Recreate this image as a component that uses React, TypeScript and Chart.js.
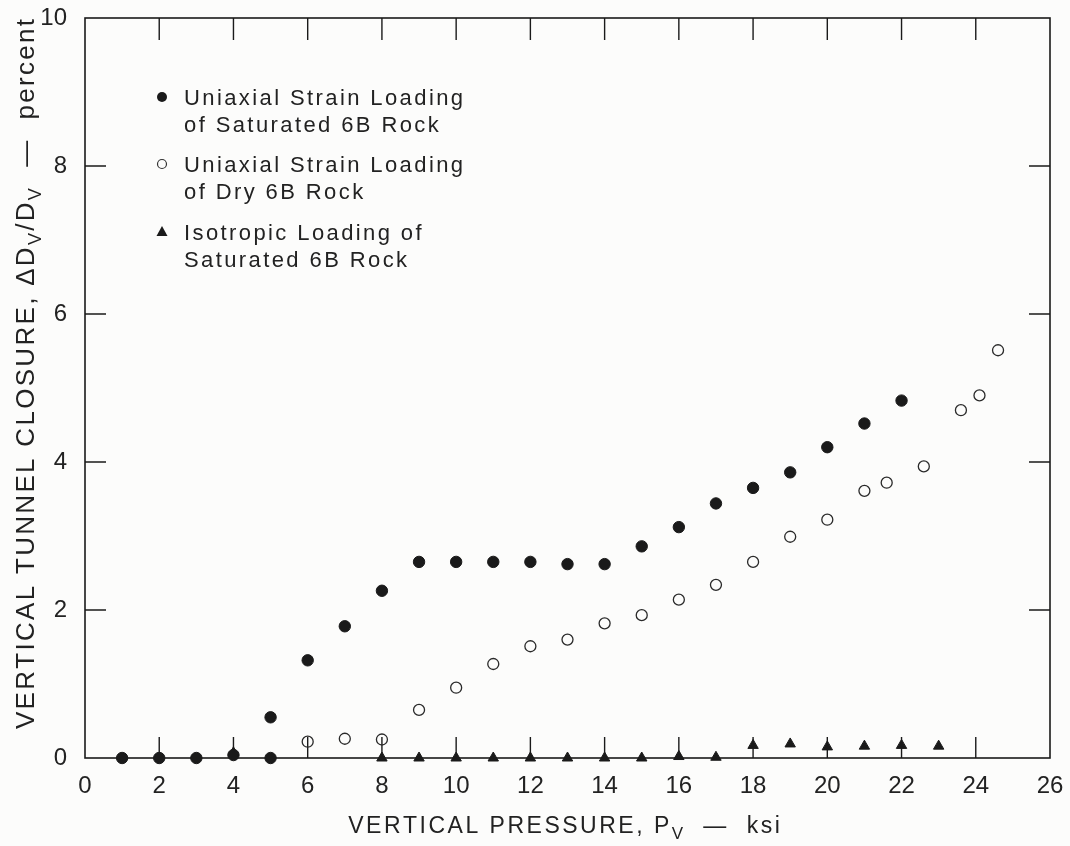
import React, { useEffect, useRef } from "react";
import { Chart, registerables } from "chart.js";

Chart.register(...registerables);

// ---- data ----
const satX = [1, 2, 3, 4, 5, 5, 6, 7, 8, 9, 10, 11, 12, 13, 14, 15, 16, 17, 18, 19, 20, 21, 22];
const satY = [0, 0, 0, 0.04, 0, 0.55, 1.32, 1.78, 2.26, 2.65, 2.65, 2.65, 2.65, 2.62, 2.62, 2.86, 3.12, 3.44, 3.65, 3.86, 4.2, 4.52, 4.83];

const dryX = [6, 7, 8, 9, 10, 11, 12, 13, 14, 15, 16, 17, 18, 19, 20, 21, 21.6, 22.6, 23.6, 24.1, 24.6];
const dryY = [0.22, 0.26, 0.25, 0.65, 0.95, 1.27, 1.51, 1.6, 1.82, 1.93, 2.14, 2.34, 2.65, 2.99, 3.22, 3.61, 3.72, 3.94, 4.7, 4.9, 5.51];

const isoX = [4, 8, 9, 10, 11, 12, 13, 14, 15, 16, 17, 18, 19, 20, 21, 22, 23];
const isoY = [0.07, 0, 0, 0, 0, 0, 0, 0, 0, 0.02, 0.01, 0.17, 0.19, 0.15, 0.16, 0.17, 0.16];

const xTickValues = [0, 2, 4, 6, 8, 10, 12, 14, 16, 18, 20, 22, 24, 26];
const yTickValues = [0, 2, 4, 6, 8, 10];

const legendEntries = [
  ["Uniaxial Strain Loading", "of Saturated 6B Rock"],
  ["Uniaxial Strain Loading", "of Dry 6B Rock"],
  ["Isotropic Loading of", "Saturated 6B Rock"],
];
const legendStyles = ["filled", "open", "triangle"];

type Seg = { t: string; sub?: boolean };
const xTitle: Seg[] = [{ t: "VERTICAL PRESSURE, P" }, { t: "V", sub: true }, { t: "  —  ksi" }];
const yTitle: Seg[] = [
  { t: "VERTICAL TUNNEL CLOSURE, ΔD" },
  { t: "V", sub: true },
  { t: "/D" },
  { t: "V", sub: true },
  { t: "  —  percent" },
];

const INK = "#1a1a1a";
const FONT = "'Liberation Sans', Arial, sans-serif";

const toPts = (xs: number[], ys: number[]) => xs.map((x, i) => ({ x, y: ys[i] }));

function segWidth(ctx: CanvasRenderingContext2D, segs: Seg[], size: number, subSize: number, ls: number) {
  let w = 0;
  for (const s of segs) {
    ctx.font = `${s.sub ? subSize : size}px ${FONT}`;
    for (const ch of s.t) w += ctx.measureText(ch).width + ls;
  }
  return w - ls;
}

function drawSegs(ctx: CanvasRenderingContext2D, segs: Seg[], x: number, y: number, size: number, subSize: number, ls: number) {
  for (const s of segs) {
    ctx.font = `${s.sub ? subSize : size}px ${FONT}`;
    const yy = s.sub ? y + size * 0.28 : y;
    for (const ch of s.t) {
      ctx.fillText(ch, x, yy);
      x += ctx.measureText(ch).width + ls;
    }
  }
}

function drawSpaced(ctx: CanvasRenderingContext2D, text: string, x: number, y: number, ls: number) {
  for (const ch of text) {
    ctx.fillText(ch, x, y);
    x += ctx.measureText(ch).width + ls;
  }
}

const framePlugin = {
  id: "frame",
  beforeDraw(chart: any) {
    const ctx = chart.ctx as CanvasRenderingContext2D;
    ctx.save();
    ctx.fillStyle = "#fcfcfb";
    ctx.fillRect(0, 0, chart.width, chart.height);
    ctx.restore();
  },
  beforeDatasetsDraw(chart: any) {
    const ctx = chart.ctx as CanvasRenderingContext2D;
    const { left, right, top, bottom } = chart.chartArea;
    const xs = chart.scales.x;
    const ys = chart.scales.y;
    ctx.save();
    ctx.strokeStyle = INK;
    ctx.lineWidth = 1.6;
    ctx.strokeRect(left, top, right - left, bottom - top);
    ctx.lineWidth = 1.4;
    ctx.beginPath();
    for (const v of xTickValues) {
      if (v === 0 || v === 26) continue;
      const px = xs.getPixelForValue(v);
      ctx.moveTo(px, bottom);
      ctx.lineTo(px, bottom - 21);
      ctx.moveTo(px, top);
      ctx.lineTo(px, top + 22);
    }
    for (const v of yTickValues) {
      if (v === 0 || v === 10) continue;
      const py = ys.getPixelForValue(v);
      ctx.moveTo(left, py);
      ctx.lineTo(left + 21, py);
      ctx.moveTo(right, py);
      ctx.lineTo(right - 21, py);
    }
    ctx.stroke();
    ctx.restore();
  },
  afterDraw(chart: any) {
    const ctx = chart.ctx as CanvasRenderingContext2D;
    ctx.save();
    ctx.fillStyle = "#222";
    ctx.textBaseline = "alphabetic";
    ctx.textAlign = "left";

    // x title
    const xSize = 23, xSub = 17, xLs = 2.5;
    const xw = segWidth(ctx, xTitle, xSize, xSub, xLs);
    const xc = 564;
    drawSegs(ctx, xTitle, xc - xw / 2, 833, xSize, xSub, xLs);

    // y title (rotated)
    const ySize = 26, ySub = 18, yLs = 2.3;
    const yw = segWidth(ctx, yTitle, ySize, ySub, yLs);
    ctx.save();
    ctx.translate(34, 374);
    ctx.rotate(-Math.PI / 2);
    drawSegs(ctx, yTitle, -yw / 2, 0, ySize, ySub, yLs);
    ctx.restore();

    // legend
    const mx = 162, tx = 184;
    const firstBase = [105, 172, 240];
    ctx.font = `22px ${FONT}`;
    legendEntries.forEach((lines, i) => {
      const b = firstBase[i];
      lines.forEach((ln, j) => {
        drawSpaced(ctx, ln, tx, b + j * 27, 2.4);
      });
      const cy = b - 8;
      const st = legendStyles[i];
      ctx.beginPath();
      if (st === "filled") {
        ctx.arc(mx, cy, 5, 0, Math.PI * 2);
        ctx.fillStyle = INK;
        ctx.fill();
      } else if (st === "open") {
        ctx.arc(mx, cy, 4.5, 0, Math.PI * 2);
        ctx.strokeStyle = "#333";
        ctx.lineWidth = 1.2;
        ctx.stroke();
      } else {
        ctx.moveTo(mx, cy - 6);
        ctx.lineTo(mx + 5.5, cy + 4);
        ctx.lineTo(mx - 5.5, cy + 4);
        ctx.closePath();
        ctx.fillStyle = INK;
        ctx.fill();
      }
      ctx.fillStyle = "#222";
    });
    ctx.restore();
  },
};

export default function App() {
  const ref = useRef<HTMLCanvasElement>(null);
  useEffect(() => {
    const canvas = ref.current!;
    const chart = new Chart(canvas, {
      type: "scatter",
      data: {
        datasets: [
          {
            label: "Uniaxial Strain Loading of Saturated 6B Rock",
            data: toPts(satX, satY),
            pointStyle: "circle",
            pointRadius: 5.7,
            backgroundColor: INK,
            borderColor: INK,
            borderWidth: 1,
          },
          {
            label: "Uniaxial Strain Loading of Dry 6B Rock",
            data: toPts(dryX, dryY),
            pointStyle: "circle",
            pointRadius: 5.5,
            backgroundColor: "rgba(0,0,0,0)",
            borderColor: "#2a2a2a",
            borderWidth: 1.3,
          },
          {
            label: "Isotropic Loading of Saturated 6B Rock",
            data: toPts(isoX, isoY),
            pointStyle: "triangle",
            pointRadius: 6,
            backgroundColor: INK,
            borderColor: INK,
            borderWidth: 1,
          },
        ],
      },
      options: {
        responsive: false,
        animation: false,
        devicePixelRatio: 1,
        clip: false as any,
        layout: { padding: { top: 18, right: 20, left: 0, bottom: 0 } },
        plugins: { legend: { display: false }, tooltip: { enabled: false }, title: { display: false } },
        scales: {
          x: {
            type: "linear",
            min: 0,
            max: 26,
            afterFit: (s: any) => {
              s.height = 88;
              s.paddingLeft = 0;
              s.paddingRight = 0;
            },
            afterBuildTicks: (s: any) => {
              s.ticks = xTickValues.map((v) => ({ value: v }));
            },
            grid: { display: false, drawTicks: false, tickLength: 0 },
            border: { display: false },
            ticks: { color: "#222", padding: 14, font: { family: FONT, size: 24 } },
          },
          y: {
            type: "linear",
            min: 0,
            max: 10,
            afterFit: (s: any) => {
              s.width = 85;
              s.paddingTop = 0;
              s.paddingBottom = 0;
            },
            afterBuildTicks: (s: any) => {
              s.ticks = yTickValues.map((v) => ({ value: v }));
            },
            grid: { display: false, drawTicks: false, tickLength: 0 },
            border: { display: false },
            ticks: { color: "#222", padding: 18, font: { family: FONT, size: 24 } },
          },
        },
      },
      plugins: [framePlugin],
    } as any);
    return () => chart.destroy();
  }, []);
  return (
    <div style={{ position: "absolute", left: 0, top: 0, width: 1070, height: 846, background: "#fcfcfb" }}>
      <canvas ref={ref} width={1070} height={846} style={{ display: "block", width: 1070, height: 846 }} />
    </div>
  );
}
